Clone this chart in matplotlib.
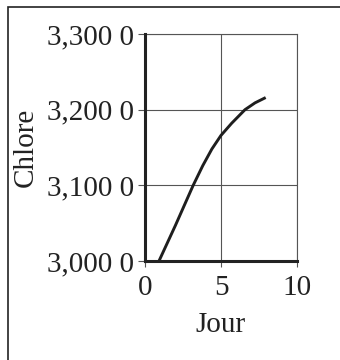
import matplotlib
matplotlib.use('Agg')
import matplotlib.pyplot as plt
from matplotlib.patches import Rectangle

plt.rcParams['font.family'] = ['Liberation Serif', 'DejaVu Serif']

# data
jour = [0.92, 2.0, 3.17, 3.8, 4.4, 5.0, 5.7, 6.58, 7.24, 7.94]
chlore = [3.000, 3.047, 3.100, 3.126, 3.148, 3.166, 3.182, 3.200, 3.209, 3.216]
xticks = [0, 5, 10]
yticks = [3.0, 3.1, 3.2, 3.3]
ytick_labels = ['3,000 0', '3,100 0', '3,200 0', '3,300 0']

fig = plt.figure(figsize=(3.4, 3.6), dpi=100)
ax = fig.add_axes([0.4265, 0.275, 0.447, 0.6306])

# outer frame (cut by the image edges on the right and bottom)
fig.patches.append(Rectangle((8 / 340, -0.05), 1.2, 1 - 7 / 360 + 0.05,
                             transform=fig.transFigure, fill=False,
                             ec='#222222', lw=1.2, clip_on=False))

ax.plot(jour, chlore, color='#1e1e1e', lw=2.1, solid_capstyle='butt',
        solid_joinstyle='round', zorder=3)

ax.set_xlim(0, 10)
ax.set_ylim(3.0, 3.3)
ax.set_xticks(xticks)
ax.set_xticklabels([str(t) for t in xticks])
ax.set_yticks(yticks)
ax.set_yticklabels(ytick_labels)

ax.grid(True, color='#555555', lw=0.8)
ax.set_axisbelow(True)

for s in ['left', 'bottom']:
    ax.spines[s].set_linewidth(2.2)
    ax.spines[s].set_color('#222222')
    ax.spines[s].set_zorder(4)
for s in ['top', 'right']:
    ax.spines[s].set_linewidth(0.8)
    ax.spines[s].set_color('#555555')

ax.tick_params(axis='y', direction='out', length=5, width=0.8, color='#555555',
               labelsize=21, labelcolor='#222222', pad=3)
ax.tick_params(axis='x', direction='out', length=4, width=0.8, color='#555555',
               labelsize=21, labelcolor='#222222', pad=6)

ax.set_xlabel('Jour', fontsize=21, color='#222222', labelpad=8)
ax.set_ylabel('Chlore', fontsize=21, color='#222222', labelpad=6)

fig.savefig('out.png', dpi=100)
